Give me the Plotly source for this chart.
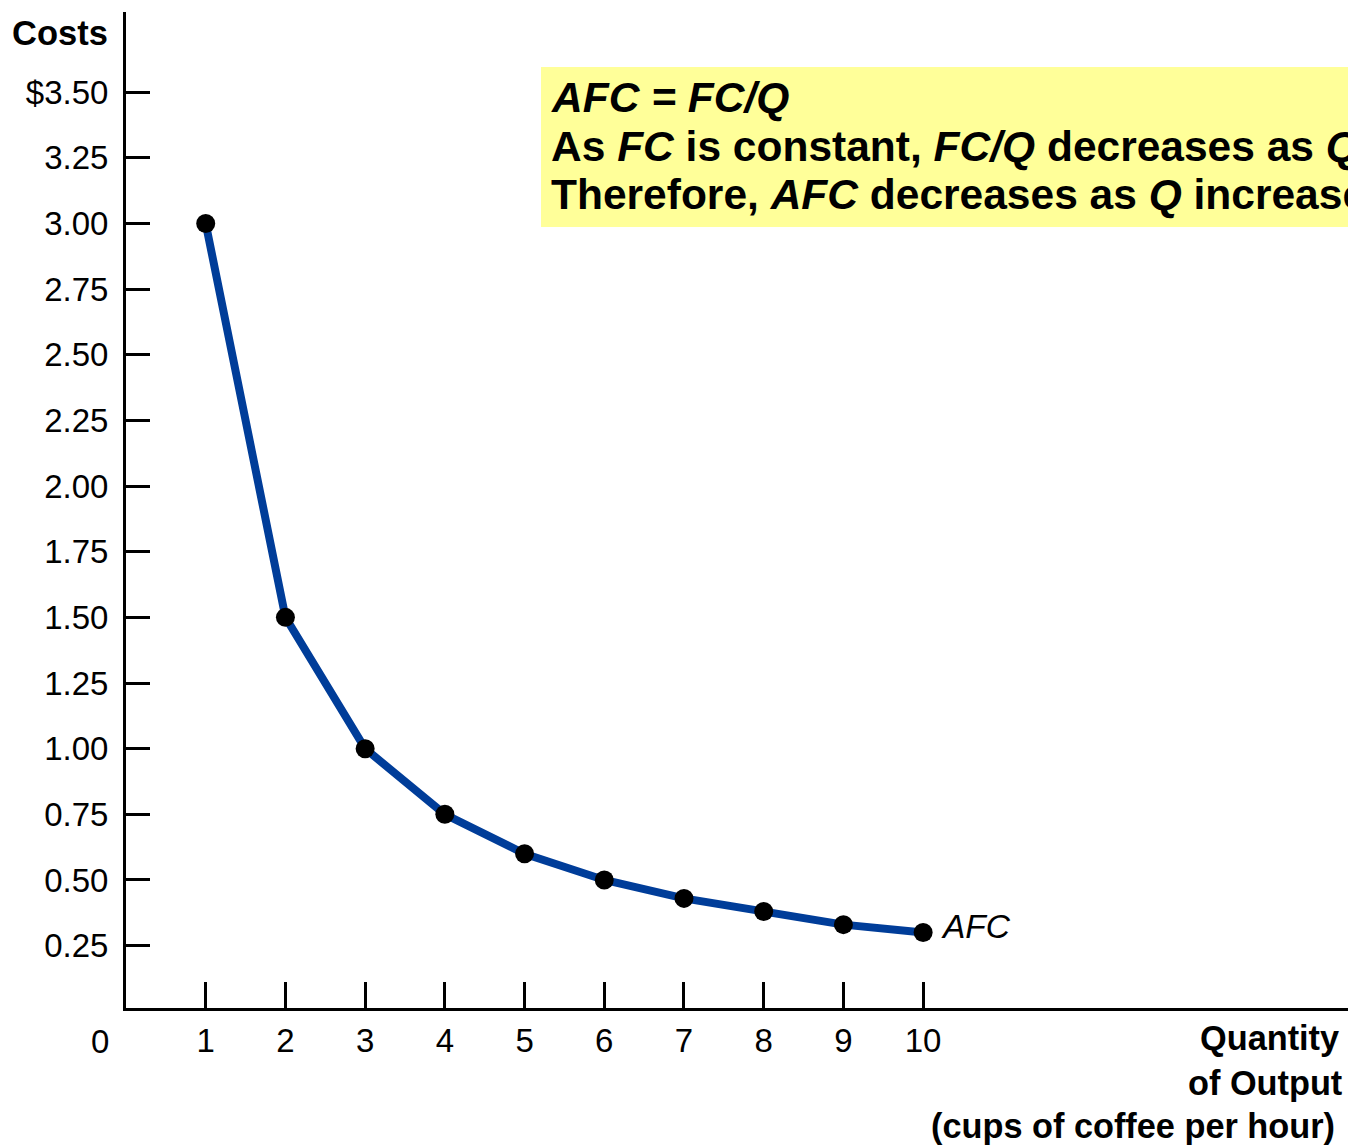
import plotly.graph_objects as go

quantity = [1, 2, 3, 4, 5, 6, 7, 8, 9, 10]
afc = [3.00, 1.50, 1.00, 0.75, 0.60, 0.50, 0.43, 0.38, 0.33, 0.30]

y_tickvals = [0.25, 0.50, 0.75, 1.00, 1.25, 1.50, 1.75, 2.00, 2.25, 2.50, 2.75, 3.00, 3.25, 3.50]
y_ticktext = ["0.25", "0.50", "0.75", "1.00", "1.25", "1.50", "1.75", "2.00",
              "2.25", "2.50", "2.75", "3.00", "3.25", "$3.50"]
x_tickvals = [1, 2, 3, 4, 5, 6, 7, 8, 9, 10]

FONT = "Liberation Sans, Arial, sans-serif"

fig = go.Figure()
fig.add_trace(go.Scatter(
    x=quantity, y=afc, mode="lines+markers",
    line=dict(color="#003D99", width=8),
    marker=dict(color="black", size=19),
    showlegend=False, hoverinfo="skip", cliponaxis=False,
))

fig.update_layout(
    width=1348, height=1146,
    margin=dict(l=126, r=0, t=12, b=138),
    paper_bgcolor="white", plot_bgcolor="white",
    font=dict(family=FONT, size=33, color="black"),
    xaxis=dict(range=[0, 15.33], tickvals=x_tickvals, ticks="inside", ticklen=26,
               tickwidth=3, tickcolor="black", showline=True, linewidth=3, linecolor="black",
               showgrid=False, zeroline=False, ticklabelstandoff=1,
               tickfont=dict(size=33, family=FONT)),
    yaxis=dict(range=[0.0126, 3.805], tickvals=y_tickvals, ticktext=y_ticktext, ticks="inside",
               ticklen=24, tickwidth=3, tickcolor="black", showline=True, linewidth=3,
               linecolor="black", showgrid=False, zeroline=False, ticklabelstandoff=8,
               tickfont=dict(size=33, family=FONT)),
)

# yellow box
fig.add_shape(type="rect", xref="paper", yref="paper",
              x0=(541 - 126) / 1222, x1=1.05, y0=(1008 - 227) / 996, y1=(1008 - 67) / 996,
              fillcolor="#FFFF99", line=dict(width=0), layer="below")

box_lines = [
    "<b><i>AFC = FC/Q</i></b>",
    "<b>As <i>FC</i> is constant, <i>FC/Q</i> decreases as <i>Q</i> increases.</b>",
    "<b>Therefore, <i>AFC</i> decreases as <i>Q</i> increases.</b>",
]
for i, t in enumerate(box_lines):
    fig.add_annotation(text=t, xref="paper", yref="paper",
                       x=(549 - 126) / 1222, y=(1008 - (98 + 48.5 * i)) / 996,
                       xanchor="left", yanchor="middle", showarrow=False,
                       font=dict(family=FONT, size=42.5, color="black"))

fig.add_annotation(text="<b>Costs</b>", xref="paper", yref="paper",
                   x=-(126 - 110) / 1222, y=(1008 - 33) / 996, xanchor="right", yanchor="middle",
                   showarrow=False, font=dict(size=34.5))
fig.add_annotation(text="0", xref="x", yref="y", x=0, y=0.0126, xshift=-26, yshift=-33,
                   xanchor="center", yanchor="middle", showarrow=False, font=dict(size=33))
fig.add_annotation(text="<i>AFC</i>", xref="x", yref="y", x=10, y=0.30, xshift=16, yshift=6,
                   xanchor="left", yanchor="middle", showarrow=False, font=dict(size=33.5))

right_lines = [("<b>Quantity</b>", 1341, 1038), ("<b>of Output</b>", 1344, 1083),
               ("<b>(cups of coffee per hour)</b>", 1337, 1126)]
for t, xr, yc in right_lines:
    fig.add_annotation(text=t, xref="paper", yref="paper",
                       x=(xr - 126) / 1222, y=(1008 - yc) / 996, xanchor="right", yanchor="middle",
                       showarrow=False, font=dict(size=34.3))

fig.write_html("out.html")
